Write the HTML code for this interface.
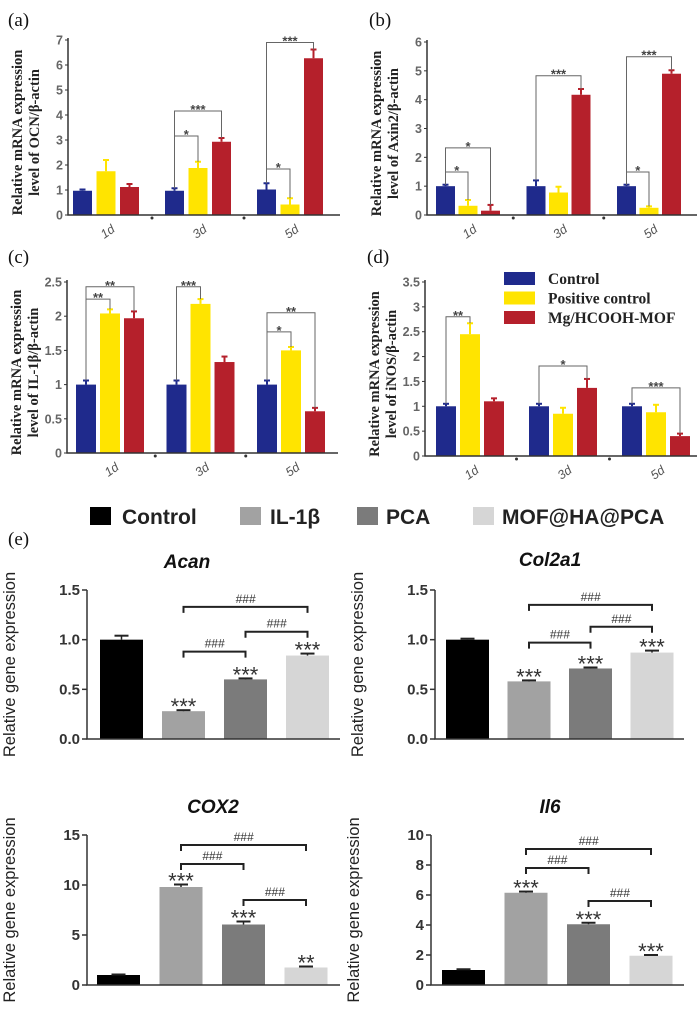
<!DOCTYPE html>
<html><head><meta charset="utf-8">
<style>
html,body{margin:0;padding:0;background:#fff;}
svg{display:block;}
</style></head>
<body>
<svg id="fig" width="700" height="1010" viewBox="0 0 700 1010" xmlns="http://www.w3.org/2000/svg"></svg>
<script>
// ---------- Top panels data ----------
const dayCategories = ["1d","3d","5d"];
const seriesNames = ["Control","Positive control","Mg/HCOOH-MOF"];
const seriesColors = ["#1f2a8c","#ffe400","#b5202b"];

const aTicks = [0,1,2,3,4,5,6,7];
const aControl = [0.97,0.97,1.02];
const aPositive = [1.75,1.88,0.42];
const aMof = [1.12,2.93,6.27];
const aCtrlErr = [0.05,0.1,0.25];
const aPosErr = [0.45,0.25,0.25];
const aMofErr = [0.12,0.15,0.35];
const aSig = [[1,1,3.16,"*"],[1,2,4.16,"***"],[2,1,1.84,"*"],[2,2,6.9,"***"]];

const bTicks = [0,1,2,3,4,5,6];
const bControl = [1.0,1.0,1.0];
const bPositive = [0.32,0.78,0.25];
const bMof = [0.15,4.17,4.9];
const bCtrlErr = [0.05,0.2,0.05];
const bPosErr = [0.2,0.2,0.05];
const bMofErr = [0.2,0.2,0.12];
const bSig = [[0,1,1.49,"*"],[0,2,2.33,"*"],[1,2,4.83,"***"],[2,1,1.49,"*"],[2,2,5.49,"***"]];

const cTicks = [0,0.5,1,1.5,2,2.5];
const cControl = [1,1,1];
const cPositive = [2.04,2.18,1.5];
const cMof = [1.97,1.33,0.61];
const cCtrlErr = [0.06,0.06,0.06];
const cPosErr = [0.06,0.07,0.05];
const cMofErr = [0.1,0.08,0.05];
const cSig = [[0,1,2.25,"**"],[0,2,2.43,"**"],[1,1,2.43,"***"],[2,1,1.77,"*"],[2,2,2.05,"**"]];

const dTicks = [0,0.5,1,1.5,2,2.5,3,3.5];
const dControl = [1,1,1];
const dPositive = [2.45,0.85,0.88];
const dMof = [1.1,1.37,0.4];
const dCtrlErr = [0.05,0.05,0.05];
const dPosErr = [0.22,0.12,0.15];
const dMofErr = [0.06,0.18,0.05];
const dSig = [[0,1,2.8,"**"],[1,2,1.81,"*"],[2,2,1.37,"***"]];

// ---------- Panel (e) data ----------
const eGroups = ["Control","IL-1β","PCA","MOF@HA@PCA"];
const eColors = ["#000000","#a2a2a2","#7b7b7b","#d6d6d6"];
const acanValues = [1.0,0.28,0.6,0.84];
const acanErr = [0.04,0.01,0.01,0.02];
const acanStars = ["","***","***","***"];
const acanTicks = [0,0.5,1.0,1.5];
const acanHash = [[1,3,1.33],[2,3,1.08],[1,2,0.88]];
const colValues = [1.0,0.58,0.71,0.87];
const colErr = [0.01,0.01,0.01,0.02];
const colStars = ["","***","***","***"];
const colTicks = [0,0.5,1.0,1.5];
const colHash = [[1,3,1.35],[2,3,1.13],[1,2,0.97]];
const coxValues = [1.0,9.8,6.05,1.75];
const coxErr = [0.05,0.25,0.3,0.1];
const coxStars = ["","***","***","**"];
const coxTicks = [0,5,10,15];
const coxHash = [[1,3,14.0],[1,2,12.1],[2,3,8.5]];
const il6Values = [1.0,6.15,4.05,1.95];
const il6Err = [0.05,0.08,0.1,0.05];
const il6Stars = ["","***","***","***"];
const il6Ticks = [0,2,4,6,8,10];
const il6Hash = [[1,3,9.07],[1,2,7.8],[2,3,5.6]];

const svg = document.getElementById('fig');
const NS = "http://www.w3.org/2000/svg";
function mk(tag, attrs, parent, text){
  const e = document.createElementNS(NS, tag);
  for (const k in attrs) e.setAttribute(k, attrs[k]);
  if (text !== undefined) e.textContent = text;
  (parent || svg).appendChild(e);
  return e;
}

function groupedPanel(cfg){
  const g = mk('g', {});
  
  
  const ymax = cfg.ticks[cfg.ticks.length-1];
  const yS = v => cfg.y0 - (cfg.y0 - cfg.yTop) * v / ymax;
  const barX = (gi, si) => cfg.groupX[0] + gi * cfg.groupStep + si * cfg.barStep;
  const pl = mk('text', {x: cfg.labelX, y: cfg.labelY, 'font-family': 'Liberation Serif, serif', 'font-size': 19, fill: '#111'}, g, cfg.label);
  
  
  const yt = mk('text', {transform: `translate(${cfg.axisX-46},${(cfg.y0+cfg.yTop)/2+5}) rotate(-90)`, 'text-anchor': 'middle', 'font-family': 'Liberation Serif, serif', 'font-weight': 'bold', 'font-size': 14.5, fill: '#222'}, g);
  
  
  mk('tspan', {x: 0, dy: 0}, yt, 'Relative mRNA expression');
  mk('tspan', {x: 0, dy: 17}, yt, cfg.ytitle2);
  const vals = [cfg.control, cfg.positive, cfg.mof];
  const errs = [cfg.ctrlErr, cfg.posErr, cfg.mofErr];
  for (let gi = 0; gi < dayCategories.length; gi++){
    for (let si = 0; si < 3; si++){
      const x = barX(gi, si), v = vals[si][gi], e = errs[si][gi];
      const r = mk('rect', {x: x, y: yS(v), width: cfg.barW, height: cfg.y0 - yS(v), fill: seriesColors[si]}, g);
      
      
      const cx = x + cfg.barW/2;
      mk('line', {x1: cx, x2: cx, y1: yS(v), y2: yS(v+e), stroke: seriesColors[si], 'stroke-width': 2}, g);
      mk('line', {x1: cx-3, x2: cx+3, y1: yS(v+e), y2: yS(v+e), stroke: seriesColors[si], 'stroke-width': 2}, g);
    }
  }
  const ax = mk('path', {d: `M${cfg.axisX},${cfg.yTop-2} V${cfg.y0} H${cfg.axisEnd}`, stroke: '#333', 'stroke-width': 1.5, fill: 'none'}, g);
  
  
  cfg.ticks.forEach(t => {
    const y = yS(t);
    mk('line', {x1: cfg.axisX-3, x2: cfg.axisX, y1: y, y2: y, stroke: '#333'}, g);
    const tl = mk('text', {x: cfg.axisX-5, y: y+4.5, 'text-anchor': 'end', 'font-family': 'Liberation Sans, sans-serif', 'font-weight': 'bold', 'font-size': 12.5, fill: '#666'}, g, String(t));
    
    
  });
  for (let gi = 0; gi < dayCategories.length; gi++){
    const cx = barX(gi, 1) + cfg.barW/2;
    const xl = mk('text', {transform: `translate(${cx+4},${cfg.y0+20}) rotate(-35)`, 'text-anchor': 'middle', 'font-family': 'Liberation Sans, sans-serif', 'font-style': 'italic', 'font-size': 12.5, fill: '#555'}, g, dayCategories[gi]);
    
    
    if (gi > 0) mk('circle', {cx: (barX(gi,0) + barX(gi-1,2) + cfg.barW)/2, cy: cfg.y0+3, r: 1.5, fill: '#333'}, g);
  }
  cfg.sig.forEach(s => {
    const [gi, si, lvl, txt] = s;
    const x1 = barX(gi,0) + cfg.barW/2, x2 = barX(gi,si) + cfg.barW/2;
    const t1 = yS(vals[0][gi] + errs[0][gi]), t2 = yS(vals[si][gi] + errs[si][gi]), yl = yS(lvl);
    const p = mk('path', {d: `M${x1},${t1} V${yl} H${x2} V${t2}`, stroke: '#666', 'stroke-width': 1, fill: 'none'}, g);
    
    
    mk('text', {x: (x1+x2)/2, y: yl+3, 'text-anchor': 'middle', 'font-family': 'Liberation Sans, sans-serif', 'font-weight': 'bold', 'font-size': 13, fill: '#444'}, g, txt);
  });
}

groupedPanel({name:'panel-a-ocn', label:'(a)', labelX:8, labelY:26, ytitle2:'level of OCN/β-actin', ticks:aTicks,
  control:aControl, positive:aPositive, mof:aMof, ctrlErr:aCtrlErr, posErr:aPosErr, mofErr:aMofErr, sig:aSig,
  axisX:68, axisEnd:340, y0:215, yTop:40, groupX:[73], groupStep:92, barStep:23.5, barW:19});
groupedPanel({name:'panel-b-axin2', label:'(b)', labelX:369, labelY:26, ytitle2:'level of Axin2/β-actin', ticks:bTicks,
  control:bControl, positive:bPositive, mof:bMof, ctrlErr:bCtrlErr, posErr:bPosErr, mofErr:bMofErr, sig:bSig,
  axisX:427, axisEnd:697, y0:215, yTop:42, groupX:[436], groupStep:90.5, barStep:22.5, barW:19});
groupedPanel({name:'panel-c-il1b', label:'(c)', labelX:8, labelY:263, ytitle2:'level of IL-1β/β-actin', ticks:cTicks,
  control:cControl, positive:cPositive, mof:cMof, ctrlErr:cCtrlErr, posErr:cPosErr, mofErr:cMofErr, sig:cSig,
  axisX:67, axisEnd:338, y0:453, yTop:282, groupX:[76], groupStep:90.5, barStep:24, barW:20});
groupedPanel({name:'panel-d-inos', label:'(d)', labelX:367, labelY:263, ytitle2:'level of iNOS/β-actin', ticks:dTicks,
  control:dControl, positive:dPositive, mof:dMof, ctrlErr:dCtrlErr, posErr:dPosErr, mofErr:dMofErr, sig:dSig,
  axisX:425, axisEnd:697, y0:456, yTop:282, groupX:[436], groupStep:93, barStep:24, barW:20});

(function(){
  const g = mk('g', {});
  
  
  seriesNames.forEach((n, i) => {
    const y = 272 + i*19.5;
    const r = mk('rect', {x: 504, y: y, width: 31, height: 13, fill: seriesColors[i]}, g);
    
    
    const t = mk('text', {x: 548, y: y+12, 'font-family': 'Liberation Serif, serif', 'font-weight': 'bold', 'font-size': 15.5, fill: '#222'}, g, n);
    
    
  });
})();

(function(){
  const g = mk('g', {});
  
  
  const sx = [90, 240, 357, 473], tx = [122, 270, 386, 502];
  eGroups.forEach((n, i) => {
    const r = mk('rect', {x: sx[i], y: 507, width: 21, height: 18, fill: eColors[i]}, g);
    
    
    const t = mk('text', {x: tx[i], y: 524, 'font-family': 'Liberation Sans, sans-serif', 'font-weight': 'bold', 'font-size': 21, fill: '#222'}, g, n);
    
    
  });
  const el = mk('text', {x: 8, y: 545, 'font-family': 'Liberation Serif, serif', 'font-size': 19, fill: '#111'}, g, '(e)');
  
  
})();

function genePanel(cfg){
  const g = mk('g', {});
  
  
  const ymax = cfg.ticks[cfg.ticks.length-1];
  const yS = v => cfg.y0 - (cfg.y0 - cfg.yTop) * v / ymax;
  const bx = i => cfg.x0 + i * cfg.step;
  const cxOf = i => bx(i) + cfg.barW/2;
  const tt = mk('text', {x: cfg.titleX, y: cfg.titleY, 'text-anchor': 'middle', 'font-family': 'Liberation Sans, sans-serif', 'font-weight': 'bold', 'font-style': 'italic', 'font-size': 19, fill: '#111'}, g, cfg.title);
  
  
  const yt = mk('text', {transform: `translate(${cfg.axisX-72},${(cfg.y0+cfg.yTop)/2}) rotate(-90)`, 'text-anchor': 'middle', 'font-family': 'Liberation Sans, sans-serif', 'font-size': 16.5, fill: '#222'}, g, 'Relative gene expression');
  
  
  cfg.values.forEach((v, i) => {
    const r = mk('rect', {x: bx(i), y: yS(v), width: cfg.barW, height: cfg.y0 - yS(v), fill: eColors[i]}, g);
    
    
    const ey = yS(v + cfg.err[i]);
    mk('line', {x1: cxOf(i), x2: cxOf(i), y1: yS(v), y2: ey, stroke: '#222', 'stroke-width': 1.5}, g);
    mk('line', {x1: cxOf(i)-7, x2: cxOf(i)+7, y1: ey, y2: ey, stroke: '#222', 'stroke-width': 2}, g);
    if (cfg.stars[i]) mk('text', {x: cxOf(i), y: ey + 4, 'text-anchor': 'middle', 'font-family': 'Liberation Sans, sans-serif', 'font-size': 22, fill: '#333'}, g, cfg.stars[i]);
  });
  const ax = mk('path', {d: `M${cfg.axisX},${cfg.yTop} V${cfg.y0} H${cfg.axisEnd}`, stroke: '#333', 'stroke-width': 1.5, fill: 'none'}, g);
  
  
  cfg.ticks.forEach(t => {
    const y = yS(t);
    mk('line', {x1: cfg.axisX-5, x2: cfg.axisX, y1: y, y2: y, stroke: '#333', 'stroke-width': 1.5}, g);
    const lbl = cfg.decimals ? t.toFixed(1) : String(t);
    const tl = mk('text', {x: cfg.axisX-7, y: y+5, 'text-anchor': 'end', 'font-family': 'Liberation Sans, sans-serif', 'font-weight': 'bold', 'font-size': 15, fill: '#333'}, g, lbl);
    
    
  });
  cfg.hash.forEach(h => {
    const [a, b, lvl] = h;
    const y = yS(lvl), x1 = cxOf(a), x2 = cxOf(b);
    const p = mk('path', {d: `M${x1},${y+6} V${y} H${x2} V${y+6}`, stroke: '#222', 'stroke-width': 2, fill: 'none'}, g);
    
    
    mk('text', {x: (x1+x2)/2, y: y-4, 'text-anchor': 'middle', 'font-family': 'Liberation Sans, sans-serif', 'font-style': 'italic', 'font-size': 12, fill: '#333'}, g, '###');
  });
}

genePanel({name:'chart-acan', title:'Acan', titleX:187, titleY:568, values:acanValues, err:acanErr, stars:acanStars, ticks:acanTicks, hash:acanHash, decimals:true,
  axisX:87, axisEnd:340, y0:739, yTop:590, x0:100, step:62, barW:43});
genePanel({name:'chart-col2a1', title:'Col2a1', titleX:550, titleY:566, values:colValues, err:colErr, stars:colStars, ticks:colTicks, hash:colHash, decimals:true,
  axisX:435, axisEnd:684, y0:739, yTop:590, x0:446, step:61.5, barW:43});
genePanel({name:'chart-cox2', title:'COX2', titleX:213, titleY:813, values:coxValues, err:coxErr, stars:coxStars, ticks:coxTicks, hash:coxHash, decimals:false,
  axisX:87, axisEnd:340, y0:985, yTop:835, x0:97, step:62.5, barW:43});
genePanel({name:'chart-il6', title:'Il6', titleX:550, titleY:813, values:il6Values, err:il6Err, stars:il6Stars, ticks:il6Ticks, hash:il6Hash, decimals:false,
  axisX:431, axisEnd:684, y0:985, yTop:835, x0:442, step:62.5, barW:43});
</script>
</body></html>
